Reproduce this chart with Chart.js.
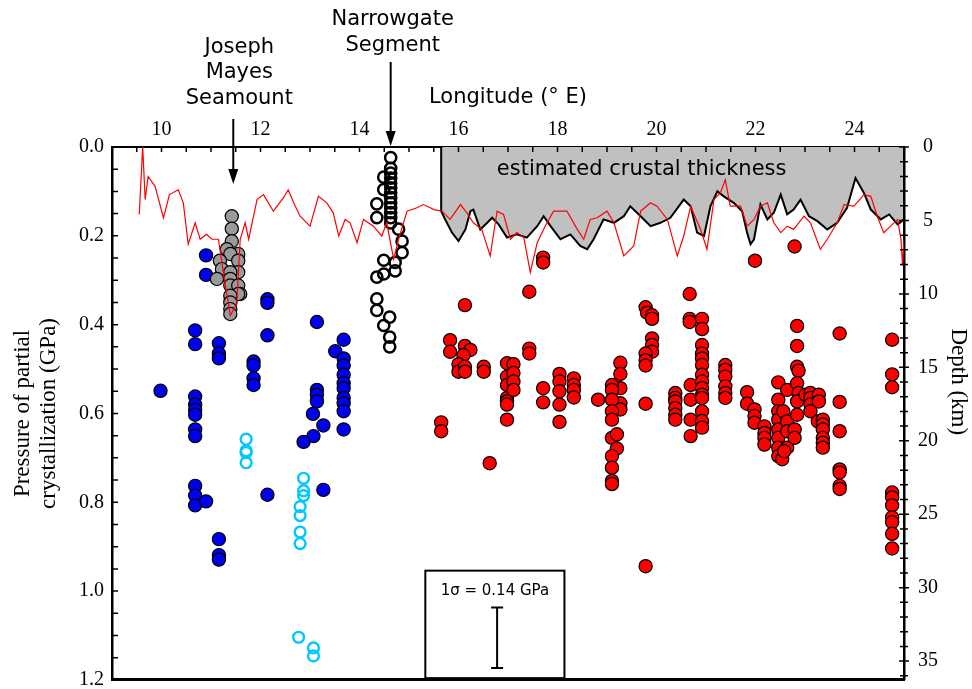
<!DOCTYPE html>
<html><head><meta charset="utf-8">
<script src="https://cdn.jsdelivr.net/npm/chart.js@4.4.1/dist/chart.umd.min.js"></script>
<style>html,body{margin:0;padding:0;background:#fff;}#wrap{width:972px;height:689px;}</style>
</head><body><div id="wrap"><canvas id="c" width="972" height="689"></canvas></div>
<script>
// ---------- axis ranges & tick labels ----------
const lonRange = [9, 25];
const pressureRange = [0, 1.2];
const depthMax = 36.28; // km equivalent of 1.2 GPa
const lonTickLabels = [10, 12, 14, 16, 18, 20, 22, 24];
const pressureTickLabels = [0, 0.2, 0.4, 0.6, 0.8, 1.0, 1.2];
const depthTickLabels = [0, 5, 10, 15, 20, 25, 30, 35];

// ---------- series: [longitude °E, pressure GPa] ----------
const blueFilled = [
  [10.90,0.244],[10.90,0.288],[9.98,0.549],[10.68,0.413],[10.68,0.444],
  [11.16,0.442],[11.16,0.465],[11.16,0.476],[12.14,0.343],[12.14,0.351],[12.14,0.424],
  [11.86,0.483],[11.86,0.492],[11.86,0.521],[11.86,0.536],[13.14,0.394],
  [13.68,0.434],[13.51,0.460],[13.68,0.476],[13.68,0.492],[13.68,0.513],[13.68,0.532],
  [13.68,0.543],[13.68,0.565],[13.68,0.577],[13.68,0.595],[13.68,0.636],
  [13.14,0.547],[13.14,0.558],[13.14,0.573],[13.06,0.601],[13.27,0.627],[13.07,0.651],[12.87,0.664],
  [10.68,0.562],[10.68,0.580],[10.68,0.592],[10.68,0.603],[10.68,0.636],[10.68,0.651],
  [10.68,0.763],[10.68,0.785],[10.68,0.807],[10.90,0.798],[12.14,0.783],[13.27,0.772],
  [11.16,0.883],[11.16,0.919],[11.16,0.929]
];
const grayFilled = [
  [11.42,0.156],[11.42,0.184],[11.42,0.212],[11.32,0.230],[11.55,0.241],[11.39,0.241],
  [11.18,0.256],[11.55,0.256],[11.22,0.275],[11.55,0.282],[11.39,0.282],[11.12,0.297],
  [11.39,0.297],[11.39,0.312],[11.55,0.312],[11.59,0.331],[11.55,0.331],[11.39,0.335],
  [11.39,0.350],[11.39,0.365],[11.39,0.376]
];
const cyanOpen = [
  [11.71,0.658],[11.71,0.684],[11.71,0.688],[11.71,0.711],[12.87,0.746],[12.87,0.774],
  [12.87,0.785],[12.80,0.810],[12.80,0.830],[12.80,0.867],[12.80,0.893],
  [12.77,1.104],[13.07,1.128],[13.07,1.146]
];
const blackOpen = [
  [14.63,0.024],[14.63,0.048],[14.63,0.059],[14.63,0.070],[14.63,0.081],[14.63,0.092],
  [14.63,0.103],[14.63,0.114],[14.63,0.126],[14.63,0.137],[14.63,0.148],[14.63,0.159],[14.63,0.171],
  [14.49,0.068],[14.49,0.096],[14.35,0.128],[14.35,0.159],
  [14.79,0.185],[14.86,0.212],[14.86,0.238],[14.72,0.260],[14.72,0.279],[14.49,0.255],[14.49,0.286],[14.35,0.293],
  [14.35,0.342],[14.35,0.368],[14.49,0.402],[14.61,0.383],[14.61,0.428],[14.61,0.450]
];
const redFilled = [
  [17.71,0.249],[17.71,0.260],[17.43,0.326],[16.13,0.356],[15.83,0.435],[15.83,0.461],
  [16.13,0.448],[16.24,0.457],[16.10,0.469],[16.00,0.489],[16.00,0.506],[16.13,0.495],[16.13,0.506],
  [16.51,0.495],[16.51,0.506],
  [16.98,0.487],[16.98,0.517],[16.98,0.536],[16.98,0.565],[16.98,0.573],[16.98,0.580],[16.98,0.614],
  [17.11,0.489],[17.11,0.509],[17.11,0.528],[17.11,0.547],[17.43,0.454],[17.43,0.465],
  [17.71,0.543],[17.71,0.575],
  [18.04,0.511],[18.04,0.528],[18.04,0.550],[18.04,0.580],[18.04,0.619],
  [18.33,0.521],[18.33,0.536],[18.33,0.547],[18.33,0.564],[18.82,0.569],
  [19.27,0.486],[19.27,0.511],[19.27,0.543],[19.27,0.577],[19.27,0.591],
  [19.10,0.536],[19.10,0.547],[19.10,0.569],[19.10,0.595],[19.10,0.614],
  [19.10,0.655],[19.20,0.647],[19.20,0.679],[19.10,0.696],[19.10,0.722],[19.10,0.752],[19.10,0.759],
  [16.63,0.712],[15.65,0.620],[15.65,0.640],
  [19.78,0.361],[19.81,0.373],[19.91,0.379],[19.91,0.387],[19.91,0.431],[19.91,0.446],[19.91,0.461],
  [19.78,0.465],[19.78,0.480],[19.78,0.492],[19.78,0.578],[19.78,0.944],
  [20.38,0.554],[20.38,0.565],[20.38,0.573],[20.38,0.588],[20.38,0.603],[20.38,0.614],
  [20.67,0.331],[20.67,0.387],[20.67,0.394],[20.69,0.536],[20.69,0.569],[20.69,0.614],[20.69,0.651],
  [20.92,0.387],[20.92,0.410],[20.92,0.446],[20.92,0.465],[20.92,0.476],[20.92,0.491],[20.92,0.513],
  [20.92,0.528],[20.92,0.543],[20.92,0.558],[20.92,0.565],[20.92,0.595],[20.92,0.617],[20.92,0.632],
  [21.39,0.491],[21.39,0.502],[21.39,0.517],[21.39,0.539],[21.39,0.554],[21.39,0.565],
  [21.83,0.552],[21.83,0.578],[21.98,0.591],[21.98,0.606],[21.98,0.621],
  [22.18,0.629],[22.18,0.644],[22.18,0.655],[22.18,0.670],[21.99,0.256],[22.79,0.224],
  [22.46,0.530],[22.46,0.569],[22.46,0.595],[22.46,0.614],[22.46,0.636],[22.46,0.655],[22.46,0.677],
  [22.46,0.696],[22.54,0.703],[22.56,0.595],[22.64,0.547],[22.64,0.618],[22.64,0.640],[22.64,0.677],[22.58,0.685],
  [22.84,0.403],[22.84,0.448],[22.84,0.495],[22.87,0.504],[22.84,0.532],[22.87,0.554],[22.84,0.573],
  [22.84,0.603],[22.79,0.636],[22.79,0.655],
  [23.01,0.558],[23.11,0.554],[23.11,0.565],[23.11,0.580],[23.11,0.595],[23.28,0.558],[23.28,0.573],[23.26,0.618],
  [23.36,0.614],[23.36,0.625],[23.36,0.636],[23.36,0.655],[23.36,0.666],[23.36,0.677],
  [23.70,0.420],[23.70,0.574],[23.70,0.640],[23.70,0.726],[23.70,0.733],[23.70,0.763],[23.70,0.770],
  [24.76,0.434],[24.76,0.512],[24.76,0.541],[24.76,0.778],[24.76,0.789],[24.76,0.807],
  [24.76,0.834],[24.76,0.845],[24.76,0.871],[24.76,0.904]
];

// ---------- lines: [longitude °E, depth km] ----------
const seafloorDepth = [
  [9.55,4.59],[9.62,0.0],[9.67,3.58],[9.73,2.01],[9.87,2.68],[10.04,4.82],[10.16,3.24],[10.34,2.91],
  [10.44,3.80],[10.54,6.62],[10.68,5.16],[10.78,6.28],[10.91,5.95],[11.02,6.28],[11.15,6.28],
  [11.25,8.53],[11.39,11.47],[11.52,10.68],[11.59,6.28],[11.69,5.16],[11.76,6.28],[11.93,3.58],
  [12.06,3.24],[12.26,4.37],[12.46,3.47],[12.56,2.91],[12.67,3.80],[12.80,4.71],[13.00,5.39],
  [13.17,3.36],[13.34,3.80],[13.47,4.48],[13.58,6.06],[13.71,4.93],[13.81,5.16],[13.95,6.51],
  [14.08,4.93],[14.28,5.39],[14.45,6.06],[14.55,5.16],[14.69,7.64],[14.79,6.28],[14.96,4.37],
  [15.16,4.14],[15.29,3.92],[15.43,4.14],[15.50,4.26],[15.67,4.37],[15.83,4.93],[16.04,3.92],
  [16.17,4.48],[16.30,5.16],[16.47,5.61],[16.64,7.41],[16.78,4.37],[16.91,4.59],[17.05,6.28],
  [17.18,5.83],[17.32,6.17],[17.45,8.53],[17.59,6.51],[17.75,5.39],[17.92,4.37],[18.19,4.37],
  [18.40,5.61],[18.53,6.28],[18.66,4.93],[18.80,4.82],[19.00,4.37],[19.14,5.16],[19.34,7.41],
  [19.54,6.74],[19.68,4.37],[19.88,3.80],[20.01,4.03],[20.22,4.93],[20.42,7.41],[20.55,6.06],
  [20.69,4.03],[20.89,5.61],[21.02,6.96],[21.16,3.58],[21.29,3.13],[21.39,2.23],[21.49,4.03],
  [21.70,4.03],[21.83,5.39],[21.97,4.93],[22.10,4.03],[22.24,3.80],[22.37,5.16],[22.51,5.83],
  [22.64,5.39],[22.77,5.61],[22.98,4.71],[23.11,5.16],[23.31,6.96],[23.45,6.28],[23.65,5.16],
  [23.79,3.92],[23.99,4.03],[24.19,3.24],[24.33,3.36],[24.46,4.71],[24.59,5.83],[24.73,5.39],
  [24.87,4.93],[24.94,6.3],[24.97,8.09],[25.0,6.28]
];
const crustThickness = [
  [15.65,0.0],[15.65,4.37],[15.73,4.93],[15.87,5.83],[16.00,6.40],[16.14,5.61],[16.24,4.37],
  [16.30,4.26],[16.44,5.61],[16.58,5.16],[16.68,4.82],[16.81,5.27],[16.98,6.17],[17.18,5.95],
  [17.38,6.17],[17.59,5.39],[17.72,4.71],[17.86,5.39],[18.06,6.28],[18.26,5.95],[18.46,6.74],
  [18.60,6.96],[18.73,6.28],[18.93,4.93],[19.14,5.16],[19.34,4.71],[19.47,4.03],[19.68,4.71],
  [19.88,5.39],[20.08,5.16],[20.28,4.82],[20.55,3.58],[20.69,4.03],[20.82,5.83],[20.96,6.06],
  [21.09,4.03],[21.23,3.02],[21.36,3.36],[21.56,3.80],[21.73,4.37],[21.83,5.83],[21.90,6.62],
  [21.97,6.28],[22.10,3.92],[22.24,4.93],[22.37,4.48],[22.51,3.24],[22.64,4.59],[22.77,4.26],
  [22.91,3.58],[23.08,4.71],[23.25,5.05],[23.45,5.61],[23.65,5.16],[23.85,4.14],[24.02,2.11],
  [24.19,3.13],[24.33,4.26],[24.53,4.93],[24.70,4.59],[24.87,5.27],[25.0,4.93],[25.0,0.0]
];

// 1-sigma error bar (GPa) shown in the inset box
const sigmaBar = { lon: 16.78, top: 1.037, bottom: 1.173 };
const sigmaLabel = '1σ = 0.14 GPa';
const insetBox = { lonLeft: 15.33, lonRight: 18.14, top: 0.954, bottom: 1.196 };
const arrowLon = { josephMayes: 11.45, narrowgate: 14.63 };
const crustLabel = { text: 'estimated crustal thickness', lon: 19.70, depth: 1.55 };

const toXY = a => a.map(([x, y]) => ({ x, y }));
const near = (v, list) => list.some(t => Math.abs(v - t) < 1e-6);

const SANS = 'DejaVu Sans';
const SERIF = 'Liberation Serif';

const decor = {
  id: 'decor',
  afterDatasetsDraw(chart) {
    const ctx = chart.ctx, xs = chart.scales.x, y = chart.scales.y, yR = chart.scales.yR;
    ctx.save();
    ctx.fillStyle = '#000';
    ctx.font = '21px "' + SANS + '"';
    ctx.textAlign = 'center'; ctx.textBaseline = 'middle';
    ctx.fillText(crustLabel.text, xs.getPixelForValue(crustLabel.lon), yR.getPixelForValue(crustLabel.depth));
    const l = xs.getPixelForValue(insetBox.lonLeft), r = xs.getPixelForValue(insetBox.lonRight);
    const t = y.getPixelForValue(insetBox.top), b = y.getPixelForValue(insetBox.bottom);
    ctx.fillStyle = '#fff'; ctx.fillRect(l, t, r - l, b - t);
    ctx.strokeStyle = '#000'; ctx.lineWidth = 2; ctx.strokeRect(l, t, r - l, b - t);
    ctx.fillStyle = '#000'; ctx.font = '15px "' + SANS + '"';
    ctx.fillText(sigmaLabel, (l + r) / 2, t + 20);
    const ex = xs.getPixelForValue(sigmaBar.lon), et = y.getPixelForValue(sigmaBar.top), eb = y.getPixelForValue(sigmaBar.bottom);
    ctx.lineWidth = 2;
    ctx.beginPath();
    ctx.moveTo(ex, et); ctx.lineTo(ex, eb);
    ctx.moveTo(ex - 6, et); ctx.lineTo(ex + 6, et);
    ctx.moveTo(ex - 6, eb); ctx.lineTo(ex + 6, eb);
    ctx.stroke();
    ctx.restore();
  },
  afterDraw(chart) {
    const ctx = chart.ctx, a = chart.chartArea;
    const xt = chart.scales.xTop, y = chart.scales.y, yR = chart.scales.yR;
    ctx.save();
    ctx.strokeStyle = '#000'; ctx.lineWidth = 1.5;
    ctx.beginPath();
    xt.ticks.forEach(t => { const p = xt.getPixelForValue(t.value); ctx.moveTo(p, a.top); ctx.lineTo(p, a.top + 5); });
    y.ticks.forEach(t => { const p = y.getPixelForValue(t.value); ctx.moveTo(a.left, p); ctx.lineTo(a.left + 6, p); });
    yR.ticks.forEach(t => {
      const p = yR.getPixelForValue(t.value);
      const big = near(t.value, depthTickLabels);
      ctx.moveTo(a.right - (big ? 5 : 4), p); ctx.lineTo(a.right + (big ? 5 : 4), p);
    });
    ctx.stroke();
    const arrow = (x, y0, y1) => {
      ctx.lineWidth = 2;
      ctx.beginPath(); ctx.moveTo(x, y0); ctx.lineTo(x, y1 - 12); ctx.stroke();
      ctx.beginPath(); ctx.moveTo(x - 5, y1 - 15); ctx.lineTo(x + 5, y1 - 15); ctx.lineTo(x, y1); ctx.closePath();
      ctx.fillStyle = '#000'; ctx.fill();
    };
    const jx = xt.getPixelForValue(arrowLon.josephMayes);
    const nx = xt.getPixelForValue(arrowLon.narrowgate);
    arrow(jx, 119, 184);
    arrow(nx, 62, 146);
    ctx.fillStyle = '#000';
    ctx.font = '21px "' + SANS + '"';
    ctx.textAlign = 'center'; ctx.textBaseline = 'middle';
    ctx.fillText('Joseph', jx + 6, 48);
    ctx.fillText('Mayes', jx + 6, 73);
    ctx.fillText('Seamount', jx + 6, 99);
    ctx.fillText('Narrowgate', nx + 2, 20);
    ctx.fillText('Segment', nx + 2, 46);
    ctx.restore();
  }
};

const noPadV = s => { s.paddingTop = 0; s.paddingBottom = 0; };
const noPadH = s => { s.paddingLeft = 0; s.paddingRight = 0; };

const pointBase = { showLine: false, pointBorderColor: '#000', pointBorderWidth: 1.2, pointRadius: 6.6, pointHoverRadius: 6.6, yAxisID: 'y' };

new Chart(document.getElementById('c'), {
  type: 'scatter',
  data: {
    datasets: [
      { label: 'seafloor', data: toXY(seafloorDepth), yAxisID: 'yR', showLine: true, borderColor: '#ff0000', borderWidth: 1.2, pointRadius: 0, fill: false, order: 0 },
      Object.assign({}, pointBase, { label: 'red', data: toXY(redFilled), pointBackgroundColor: '#ff0000', order: 1 }),
      Object.assign({}, pointBase, { label: 'black open', data: toXY(blackOpen), pointBackgroundColor: 'rgba(0,0,0,0)', pointBorderWidth: 2.5, pointRadius: 5.6, order: 2 }),
      Object.assign({}, pointBase, { label: 'gray', data: toXY(grayFilled), pointBackgroundColor: '#9a9a9a', order: 3 }),
      Object.assign({}, pointBase, { label: 'cyan open', data: toXY(cyanOpen), pointBackgroundColor: 'rgba(0,0,0,0)', pointBorderColor: '#00c8ff', pointBorderWidth: 2.4, pointRadius: 5.4, order: 4 }),
      Object.assign({}, pointBase, { label: 'blue', data: toXY(blueFilled), pointBackgroundColor: '#0000f0', order: 5 }),
      { label: 'crust', data: toXY(crustThickness), yAxisID: 'yR', showLine: true, borderColor: '#000', borderWidth: 2, pointRadius: 0, backgroundColor: '#c0c0c0', fill: { value: 0 }, order: 6 }
    ]
  },
  options: {
    responsive: false, animation: false, devicePixelRatio: 1,
    layout: { padding: 0 },
    plugins: { legend: { display: false }, tooltip: { enabled: false } },
    events: [],
    scales: {
      x: {
        type: 'linear', position: 'bottom', min: lonRange[0], max: lonRange[1],
        ticks: { display: false }, grid: { drawOnChartArea: false, drawTicks: false },
        border: { display: true, color: '#000', width: 3 },
        afterFit(s) { s.height = 5; noPadH(s); }
      },
      xTop: {
        type: 'linear', position: 'top', min: lonRange[0], max: lonRange[1],
        ticks: { stepSize: 0.5, autoSkip: false, maxRotation: 0, includeBounds: false, padding: 5, color: '#000',
          font: { family: SERIF, size: 20 },
          callback: v => near(v, lonTickLabels) ? String(Math.round(v)) : '' },
        grid: { drawOnChartArea: false, drawTicks: false },
        border: { display: true, color: '#000', width: 2 },
        title: { display: true, text: 'Longitude (° E)', color: '#000', font: { family: SANS, size: 21 }, padding: { top: 85, bottom: 0 } },
        afterFit(s) { s.height = 147; noPadH(s); }
      },
      y: {
        type: 'linear', position: 'left', reverse: true, min: pressureRange[0], max: pressureRange[1],
        ticks: { stepSize: 0.05, autoSkip: false, includeBounds: false, padding: 8, color: '#000',
          font: { family: SERIF, size: 20 },
          callback: v => near(v, pressureTickLabels) ? v.toFixed(1) : '' },
        grid: { drawOnChartArea: false, drawTicks: false },
        border: { display: true, color: '#000', width: 2.5 },
        title: { display: true, text: ['Pressure of partial', 'crystallization (GPa)'], color: '#000',
          font: { family: SERIF, size: 23, lineHeight: 1.13 }, padding: { top: 10, bottom: 0 } },
        afterFit(s) { s.width = 112; noPadV(s); }
      },
      yR: {
        type: 'linear', position: 'right', reverse: true, min: 0, max: depthMax,
        ticks: { stepSize: 1, autoSkip: false, includeBounds: false, padding: 14, crossAlign: 'center', color: '#000',
          font: { family: SERIF, size: 20 },
          callback: v => near(v, depthTickLabels) ? String(Math.round(v)) : '' },
        grid: { drawOnChartArea: false, drawTicks: false },
        border: { display: true, color: '#000', width: 2.5 },
        title: { display: true, text: 'Depth (km)           ', color: '#000',
          font: { family: SERIF, size: 23 }, padding: { top: 0, bottom: 0 } },
        afterFit(s) { s.width = 68; noPadV(s); }
      }
    }
  },
  plugins: [decor]
});
</script></body></html>
